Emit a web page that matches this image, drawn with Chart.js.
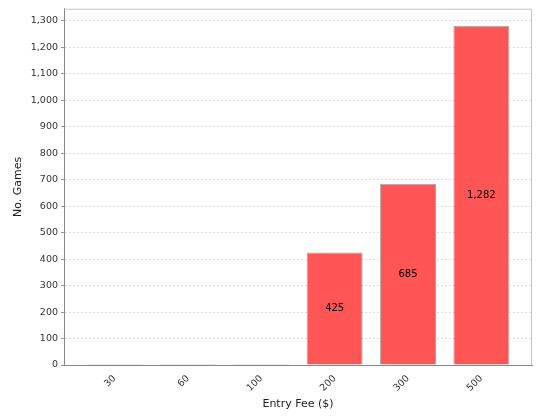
<!DOCTYPE html>
<html>
<head>
<meta charset="utf-8">
<script src="https://cdn.jsdelivr.net/npm/chart.js@4/dist/chart.umd.min.js"></script>
<style>
  body { margin: 0; background: #fff; }
  #wrap { width: 540px; height: 420px; }
</style>
</head>
<body>
<div id="wrap"><canvas id="feeChart"></canvas></div>
<script>
// data
const fees = ['30', '60', '100', '200', '300', '500'];
const games = [4, 4, 4, 425, 685, 1282];
const yTicks = [0, 100, 200, 300, 400, 500, 600, 700, 800, 900, 1000, 1100, 1200, 1300];

const fmt = (v) => Number(v).toLocaleString('en-US');

// light frame around the plot area (top / right edges)
const plotFrame = {
  id: 'plotFrame',
  beforeDatasetsDraw(chart) {
    const { ctx, chartArea: a } = chart;
    ctx.save();
    ctx.strokeStyle = '#c4c4c4';
    ctx.lineWidth = 1;
    ctx.beginPath();
    ctx.moveTo(a.left, a.top + 0.5);
    ctx.lineTo(a.right - 0.5, a.top + 0.5);
    ctx.lineTo(a.right - 0.5, a.bottom);
    ctx.stroke();
    ctx.restore();
  },
};

// value labels in the middle of the bars
const barLabels = {
  id: 'barLabels',
  afterDatasetsDraw(chart) {
    const { ctx } = chart;
    const meta = chart.getDatasetMeta(0);
    ctx.save();
    ctx.font = '10px "DejaVu Sans"';
    ctx.fillStyle = '#000';
    ctx.textAlign = 'center';
    ctx.textBaseline = 'middle';
    meta.data.forEach((bar, i) => {
      if (bar.base - bar.y < 14) return;
      ctx.fillText(fmt(games[i]), bar.x, (bar.y + bar.base) / 2);
    });
    ctx.restore();
  },
};

const ctx = document.getElementById('feeChart').getContext('2d');
new Chart(ctx, {
  type: 'bar',
  data: {
    datasets: [
      {
        data: games.map((g, i) => ({ x: i, y: g })),
        backgroundColor: '#ff5555',
        borderColor: '#a8a8a8',
        borderWidth: 1,
        // tiny bars show only as their outline
        borderSkipped: (c) => (games[c.dataIndex] < 20 ? false : 'start'),
        barPercentage: 0.763,
        categoryPercentage: 1,
      },
    ],
  },
  options: {
    responsive: true,
    maintainAspectRatio: false,
    animation: false,
    layout: { padding: { top: 4, right: 8, left: 12, bottom: 0 } },
    plugins: {
      legend: { display: false },
      tooltip: { enabled: false },
    },
    scales: {
      x: {
        type: 'linear',
        offset: false,
        min: -0.69,
        max: 5.69,
        afterBuildTicks: (axis) => {
          axis.ticks = fees.map((f, i) => ({ value: i }));
        },
        afterFit: (axis) => {
          axis.height = 55;
        },
        grid: { display: false },
        border: { display: true, color: '#888', width: 1 },
        ticks: {
          minRotation: 45,
          maxRotation: 45,
          padding: 0,
          color: '#333',
          font: { family: 'DejaVu Sans', size: 9.5 },
          callback: (v) => fees[v],
        },
        title: {
          display: true,
          text: 'Entry Fee ($)',
          color: '#222',
          font: { family: 'DejaVu Sans', size: 11 },
          padding: { top: 0, bottom: 9 },
        },
      },
      y: {
        min: 0,
        max: 1346,
        afterBuildTicks: (axis) => {
          axis.ticks = yTicks.map((v) => ({ value: v }));
        },
        afterFit: (axis) => {
          axis.width = 52;
        },
        grid: {
          color: '#dcdcdc',
          tickColor: '#999',
          tickLength: 3,
          tickBorderDash: [],
        },
        border: { display: true, color: '#888', width: 1, dash: [2, 2] },
        ticks: {
          padding: 3,
          color: '#333',
          font: { family: 'DejaVu Sans', size: 9.5 },
          callback: (v) => fmt(v),
        },
        title: {
          display: true,
          text: 'No. Games',
          color: '#222',
          font: { family: 'DejaVu Sans', size: 11 },
          padding: { top: 0, bottom: 8 },
        },
      },
    },
  },
  plugins: [plotFrame, barLabels],
});
</script>
</body>
</html>
